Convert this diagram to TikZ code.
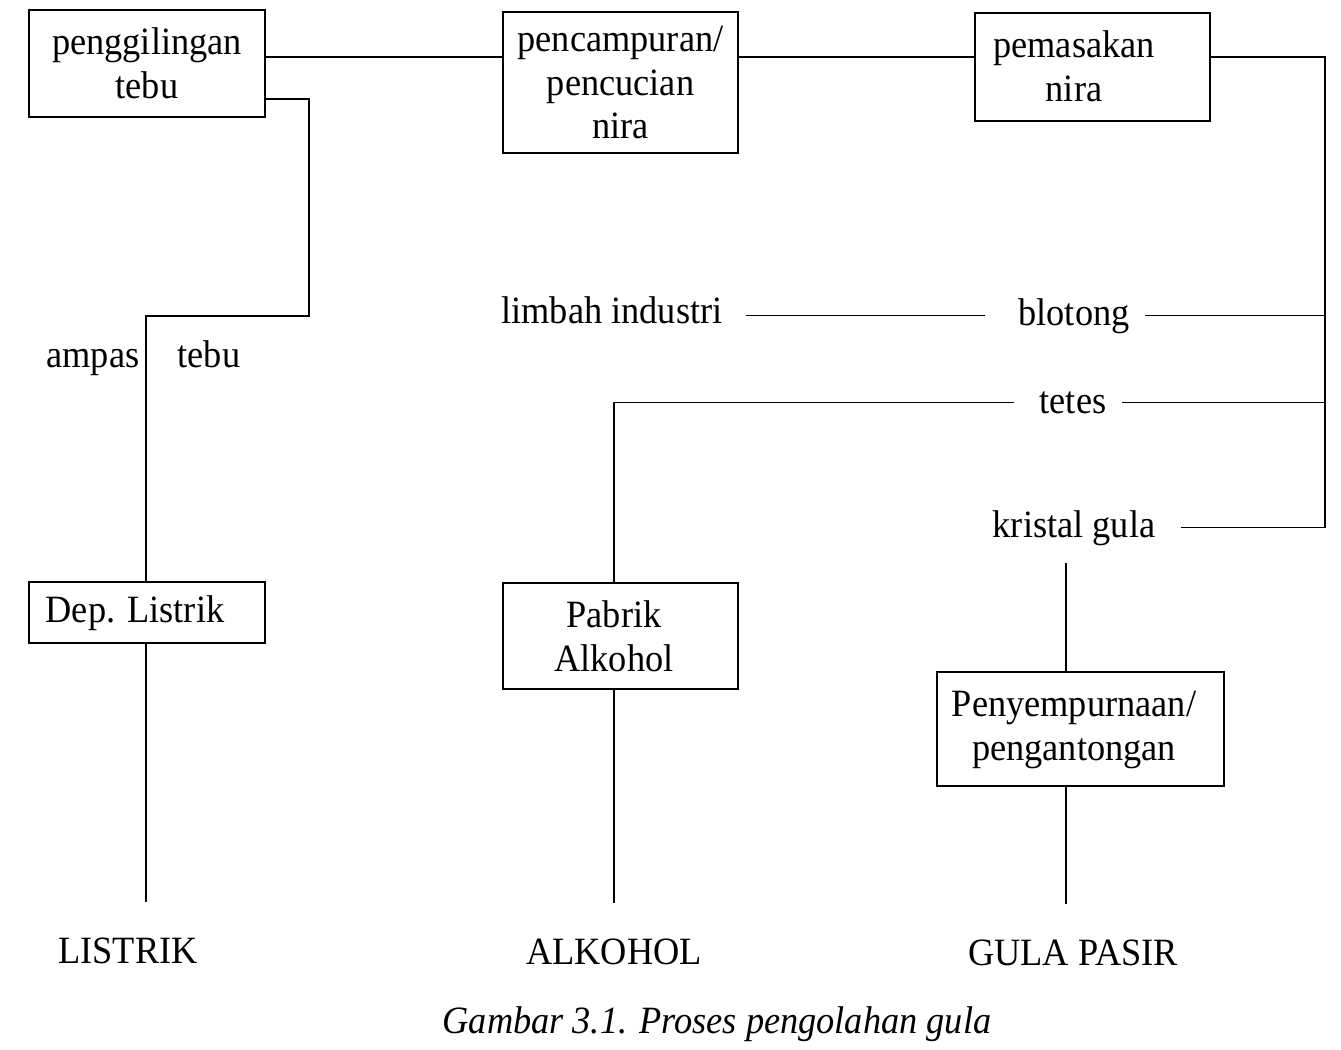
\documentclass[tikz,border=0pt]{standalone}
\usepackage{fontspec}
\setmainfont{Liberation Serif}[FakeStretch=0.94]
\usetikzlibrary{positioning}

\begin{document}
\begin{tikzpicture}[
    x=0.02cm, y=-0.02cm,
    font=\fontsize{22}{25}\selectfont,
    procbox/.style={draw, line width=1pt, minimum width=4.72cm,
                    inner sep=0pt, align=center},
    boxtext/.style={align=center, inner sep=0pt},
    flowlabel/.style={inner sep=0pt, anchor=base},
    outlabel/.style={inner sep=0pt, anchor=base},
    link/.style={line width=0.8pt},
    captionlabel/.style={font=\fontsize{22}{25}\selectfont\itshape, anchor=base},
]
\useasboundingbox (0,0) rectangle (1341,1049);

% ---------------- Top row: process boxes ----------------------------------
\node[procbox, minimum height=2.14cm]                    (giling) at (147,63.5)
    {penggilingan\\tebu};
\node[procbox, minimum width=4.70cm, minimum height=2.82cm] (campur) at (620.5,82.5)
    {pencampuran/\\pencucian\\nira};
\node[procbox, minimum width=4.70cm, minimum height=2.16cm] (masak)  at (1092.5,67) {};
\node[boxtext] (masaktext) at (1074,66) {pemasakan\\nira};

% helper coordinates for the columns and the right-hand bus
\coordinate (rowtop) at (0,57);
\coordinate (colL)   at (146,0);
\coordinate (colM)   at (614,0);
\coordinate (colR)   at (1066,0);
\coordinate (bus)    at (1325,60);
\coordinate (turnL)  at (309,316);

\draw[link] (giling.east |- rowtop) -- (campur.west |- rowtop);
\draw[link] (campur.east |- rowtop) -- (masak.west |- rowtop);

% ---------------- Side products -------------------------------------------
\node[flowlabel] (ampas)   at (93,367)   {ampas};
\node[flowlabel] (ampas2)  at (209,367)  {tebu};
\node[flowlabel] (limbah)  at (612,323)  {limbah industri};
\node[flowlabel] (blotong) at (1074,325) {blotong};
\node[flowlabel] (tetes)   at (1073,413) {tetes};
\node[flowlabel] (kristal) at (1074,537) {kristal gula};

% ---------------- Bottom row: processing boxes ----------------------------
\node[procbox, minimum height=1.22cm] (listrikbox) at (147,612.5) {};
\node[boxtext] at (135,613) {Dep. Listrik};
\node[procbox, minimum width=4.70cm, minimum height=2.12cm] (pabrik) at (620.5,636) {};
\node[boxtext] at (614,636) {Pabrik\\Alkohol};
\node[procbox, minimum width=5.74cm, minimum height=2.28cm] (sempurna) at (1080.5,729) {};
\node[boxtext] at (1074,729.5) {Penyempurnaan/\\pengantongan};

% ---------------- End products --------------------------------------------
\node[outlabel] (listrik) at (128,963)  {LISTRIK};
\node[outlabel] (alkohol) at (614,964)  {ALKOHOL};
\node[outlabel] (gula)    at (1073,965) {GULA PASIR};

% ---------------- Connectors ----------------------------------------------
% bagasse branch
\draw[link] ([yshift=0.38cm]giling.south east) -| (turnL)
    -- (colL |- turnL) -- (colL |- listrikbox.north);
\draw[link, shorten >=0.7cm] (colL |- listrikbox.south) -- (colL |- listrik.north);

% right-hand bus from pemasakan
\draw[link, shorten >=0.5cm] (masak.east |- rowtop) -| (bus |- kristal.east) -- (kristal.east);
\draw[link, shorten >=0.3cm] (bus |- blotong) -- (blotong.east);
\draw[link, shorten >=0.3cm] (bus |- tetes) -- (tetes.east);

% blotong -> limbah industri
\draw[link, shorten <=0.46cm, shorten >=0.66cm] (limbah.east |- blotong) -- (blotong.west);

% tetes -> pabrik alkohol -> alkohol
\draw[link, shorten <=0.5cm] (tetes.west) -- (colM |- tetes) -- (colM |- pabrik.north);
\draw[link, shorten >=0.7cm] (colM |- pabrik.south) -- (colM |- alkohol.north);

% kristal gula -> penyempurnaan -> gula pasir
\draw[link, shorten <=0.34cm] (colR |- kristal.south) -- (colR |- sempurna.north);
\draw[link, shorten >=0.7cm] (colR |- sempurna.south) -- (colR |- gula.north);

% ---------------- Caption -------------------------------------------------
\node[captionlabel] (caption) at (717,1033) {Gambar 3.1. Proses pengolahan gula};

\end{tikzpicture}
\end{document}
